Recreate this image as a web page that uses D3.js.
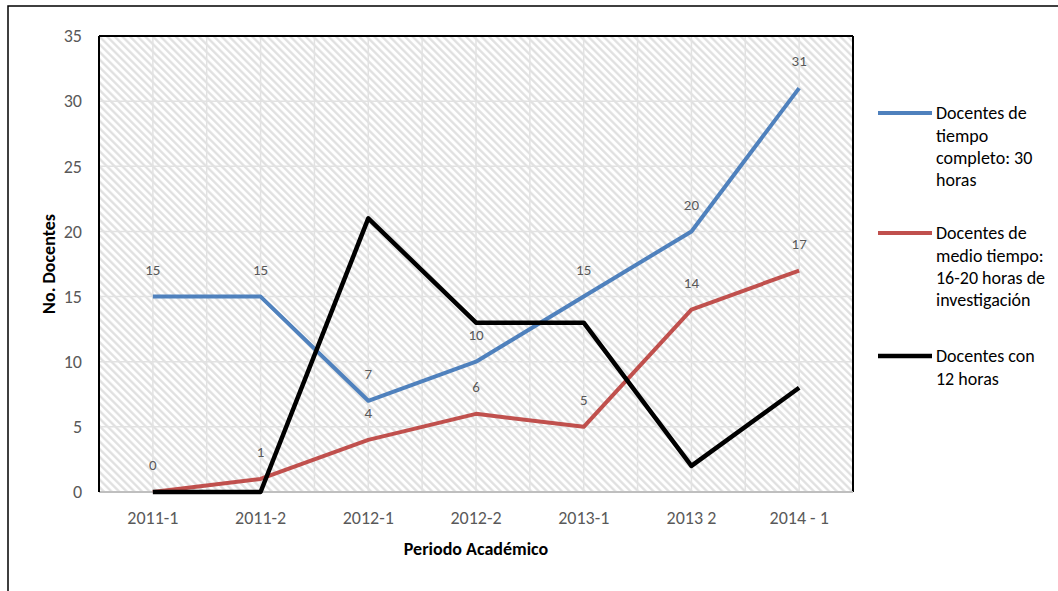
<!DOCTYPE html>
<html>
<head>
<meta charset="utf-8">
<script src="https://cdn.jsdelivr.net/npm/d3@7"></script>
<style>
  body { margin: 0; background: #fff; }
  svg { display: block; }
</style>
</head>
<body>
<svg id="chart" width="1058" height="591"></svg>
<script>
const categories = ["2011-1", "2011-2", "2012-1", "2012-2", "2013-1", "2013 2", "2014 - 1"];
const tiempoCompleto = [15, 15, 7, 10, 15, 20, 31];
const medioTiempo = [0, 1, 4, 6, 5, 14, 17];
const doceHoras = [0, 0, 21, 13, 13, 2, 8];
const yTicks = [0, 5, 10, 15, 20, 25, 30, 35];
const legendLabels = [
  ["Docentes de", "tiempo", "completo: 30", "horas"],
  ["Docentes de", "medio tiempo:", "16-20 horas de", "investigación"],
  ["Docentes con", "12 horas"]
];
const yTitle = "No. Docentes";
const xTitle = "Periodo Académico";

const series = [
  { name: legendLabels[0].join(" "), values: tiempoCompleto, color: "#4f81bd", width: 4, labels: true },
  { name: legendLabels[1].join(" "), values: medioTiempo, color: "#c0504d", width: 4, labels: true },
  { name: legendLabels[2].join(" "), values: doceHoras, color: "#000000", width: 4.5, labels: false }
];

const font = "Carlito, Lato, 'Open Sans', sans-serif";
const svg = d3.select("#chart");
const plot = { left: 99, right: 853, top: 36, bottom: 492 };

// outer border
svg.append("rect").attr("x", 8).attr("y", 6).attr("width", 1070).attr("height", 610)
  .attr("fill", "#fff").attr("stroke", "#000").attr("stroke-width", 1.5);

// hatch pattern
const defs = svg.append("defs");
const pat = defs.append("pattern").attr("id", "hatch")
  .attr("patternUnits", "userSpaceOnUse").attr("width", 5.4).attr("height", 5.4)
  .attr("patternTransform", "rotate(-45)");
pat.append("rect").attr("width", 5.4).attr("height", 5.4).attr("fill", "#ffffff");
pat.append("line").attr("x1", 1.3).attr("y1", 0).attr("x2", 1.3).attr("y2", 5.4)
  .attr("stroke", "#dedede").attr("stroke-width", 2.2);

const x = d3.scaleBand().domain(categories).range([plot.left, plot.right]).padding(0);
const y = d3.scaleLinear().domain([0, 35]).range([plot.bottom, plot.top]);
const cx = c => x(c) + x.bandwidth() / 2;

svg.append("rect").attr("x", plot.left).attr("y", plot.top)
  .attr("width", plot.right - plot.left).attr("height", plot.bottom - plot.top)
  .attr("fill", "url(#hatch)");

// gridlines
const grid = svg.append("g").attr("stroke", "#e2e2e2").attr("stroke-width", 1.5);
yTicks.filter(t => t > 0 && t < 35).forEach(t => {
  grid.append("line").attr("x1", plot.left).attr("x2", plot.right).attr("y1", y(t)).attr("y2", y(t));
});
categories.forEach((c, i) => {
  grid.append("line").attr("x1", cx(c)).attr("x2", cx(c)).attr("y1", plot.top).attr("y2", plot.bottom);
  if (i > 0) grid.append("line").attr("x1", x(c)).attr("x2", x(c)).attr("y1", plot.top).attr("y2", plot.bottom);
});

// plot border: top, right, left black; bottom gray axis
svg.append("line").attr("x1", plot.left).attr("x2", plot.right).attr("y1", plot.top).attr("y2", plot.top)
  .attr("stroke", "#000").attr("stroke-width", 2);
svg.append("line").attr("x1", plot.right).attr("x2", plot.right).attr("y1", plot.top).attr("y2", plot.bottom)
  .attr("stroke", "#000").attr("stroke-width", 2);
svg.append("line").attr("x1", plot.left).attr("x2", plot.right).attr("y1", plot.bottom).attr("y2", plot.bottom)
  .attr("stroke", "#bfbfbf").attr("stroke-width", 2);
svg.append("line").attr("x1", plot.left).attr("x2", plot.left).attr("y1", plot.top).attr("y2", plot.bottom)
  .attr("stroke", "#000").attr("stroke-width", 2);

// y axis labels
const yAxis = d3.axisLeft(y).tickValues(yTicks).tickSize(0).tickPadding(17);
const ya = svg.append("g").attr("transform", `translate(${plot.left},0)`).call(yAxis);
ya.select(".domain").remove();
ya.selectAll("text").attr("font-family", font).attr("font-size", 18).attr("fill", "#595959");

// x axis labels
const xAxis = d3.axisBottom(x).tickSize(0).tickPadding(19);
const xa = svg.append("g").attr("transform", `translate(0,${plot.bottom})`).call(xAxis);
xa.select(".domain").remove();
xa.selectAll("text").attr("font-family", font).attr("font-size", 18).attr("fill", "#595959");

// lines
const line = d3.line().x((d, i) => cx(categories[i])).y(d => y(d));
series.forEach(s => {
  svg.append("path").datum(s.values).attr("d", line)
    .attr("fill", "none").attr("stroke", s.color).attr("stroke-width", s.width)
    .attr("stroke-linejoin", "round");
});

// data labels
series.filter(s => s.labels).forEach(s => {
  svg.append("g").selectAll("text").data(s.values).join("text")
    .attr("x", (d, i) => cx(categories[i]))
    .attr("y", d => y(d) - 27)
    .attr("dy", "0.35em")
    .attr("text-anchor", "middle")
    .attr("font-family", font).attr("font-size", 15).attr("fill", "#595959")
    .text(d => d);
});

// axis titles
svg.append("text").attr("transform", `translate(49,${(plot.top + plot.bottom) / 2}) rotate(-90)`)
  .attr("text-anchor", "middle").attr("dy", "0.35em")
  .attr("font-family", font).attr("font-size", 18).attr("font-weight", "bold").attr("fill", "#000")
  .text(yTitle);
svg.append("text").attr("x", (plot.left + plot.right) / 2).attr("y", 555)
  .attr("text-anchor", "middle")
  .attr("font-family", font).attr("font-size", 18).attr("font-weight", "bold").attr("fill", "#000")
  .text(xTitle);

// legend
const legendY = [113, 233, 356];
const lg = svg.append("g");
series.forEach((s, i) => {
  lg.append("line").attr("x1", 878).attr("x2", 932).attr("y1", legendY[i]).attr("y2", legendY[i])
    .attr("stroke", s.color).attr("stroke-width", s.width);
  const t = lg.append("text").attr("x", 936).attr("y", legendY[i])
    .attr("font-family", font).attr("font-size", 18).attr("fill", "#000");
  legendLabels[i].forEach((ln, j) => {
    t.append("tspan").attr("x", 936).attr("y", legendY[i] + j * 22.3).attr("dy", "0.35em").text(ln);
  });
});
</script>
</body>
</html>
